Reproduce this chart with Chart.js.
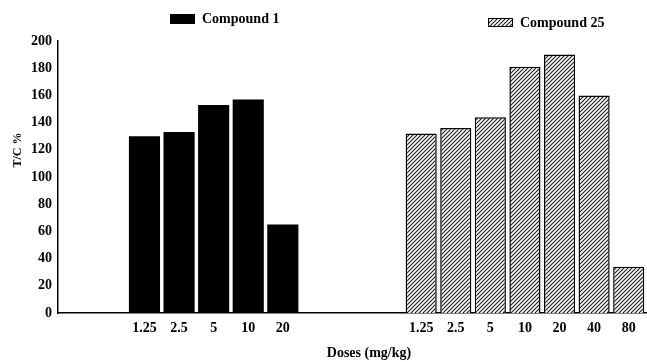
<!DOCTYPE html>
<html>
<head>
<meta charset="utf-8">
<script src="https://cdn.jsdelivr.net/npm/chart.js@4/dist/chart.umd.min.js"></script>
<style>
  html, body { margin: 0; padding: 0; background: #fff; }
  #wrap { width: 647px; height: 362px; position: relative; }
</style>
</head>
<body>
<div id="wrap"><canvas id="c" width="647" height="362"></canvas></div>
<script>
const categories = ['', '', '1.25', '2.5', '5', '10', '20', '', '', '', '1.25', '2.5', '5', '10', '20', '40', '80'];
const compound1 = [null, null, 130, 133, 153, 157, 65, null, null, null, null, null, null, null, null, null, null];
const compound25 = [null, null, null, null, null, null, null, null, null, null, 132, 136, 144, 181, 190, 160, 34];
const yTicks = [0, 20, 40, 60, 80, 100, 120, 140, 160, 180, 200];
const seriesNames = ['Compound 1', 'Compound 25'];
const xTitle = 'Doses (mg/kg)';
const yTitle = 'T/C %';

function hatch() {
  const s = 4;
  const p = document.createElement('canvas');
  p.width = s; p.height = s;
  const g = p.getContext('2d');
  g.fillStyle = '#ffffff';
  g.fillRect(0, 0, s, s);
  g.strokeStyle = '#1a1a1a';
  g.lineWidth = 1.1;
  g.beginPath();
  g.moveTo(-1, s + 1); g.lineTo(s + 1, -1);
  g.moveTo(-1, 1); g.lineTo(1, -1);
  g.moveTo(s - 1, s + 1); g.lineTo(s + 1, s - 1);
  g.stroke();
  return g.createPattern(p, 'repeat');
}
const hatchFill = hatch();

const FONT = 'Liberation Serif';

const annotationPlugin = {
  id: 'customLegendAndTitles',
  afterDraw(chart) {
    const ctx = chart.ctx;
    const ds = chart.data.datasets;
    ctx.save();
    ctx.font = 'bold 14px "' + FONT + '"';
    ctx.textBaseline = 'middle';
    // Legend: Compound 1
    ctx.fillStyle = ds[0].backgroundColor;
    ctx.fillRect(170, 14, 25, 10);
    ctx.fillStyle = '#000';
    ctx.fillText(ds[0].label, 202, 19);
    // Legend: Compound 25
    ctx.fillStyle = ds[1].backgroundColor;
    ctx.fillRect(488, 18, 24, 8);
    ctx.strokeStyle = '#000';
    ctx.lineWidth = 1;
    ctx.strokeRect(488.5, 18.5, 24, 8);
    ctx.fillStyle = '#000';
    ctx.fillText(ds[1].label, 520, 23);
    // X axis title
    ctx.textAlign = 'center';
    ctx.fillText(xTitle, 369, 353);
    // Y axis title
    ctx.font = 'bold 12px "' + FONT + '"';
    ctx.translate(18, 150);
    ctx.rotate(-Math.PI / 2);
    ctx.fillText(yTitle, 0, 0);
    ctx.restore();
  }
};

new Chart(document.getElementById('c'), {
  type: 'bar',
  data: {
    labels: categories,
    datasets: [
      { label: seriesNames[0], data: compound1, backgroundColor: '#000000', borderColor: '#000000', borderWidth: 0 },
      { label: seriesNames[1], data: compound25, backgroundColor: hatchFill, borderColor: '#000000', borderWidth: 1.5 }
    ]
  },
  options: {
    responsive: false,
    animation: false,
    devicePixelRatio: 1,
    barPercentage: 0.9,
    categoryPercentage: 1.0,
    layout: { padding: { top: 41, right: 1, left: 2, bottom: 0 } },
    plugins: {
      legend: { display: false },
      tooltip: { enabled: false }
    },
    scales: {
      x: {
        stacked: true,
        grid: { display: false, drawTicks: false },
        border: { display: true, color: '#000', width: 1.5 },
        ticks: {
          color: '#000',
          font: { family: FONT, size: 14, weight: 'bold' },
          padding: 7,
          autoSkip: false,
          maxRotation: 0
        },
        afterFit(scale) { scale.height = 49; }
      },
      y: {
        stacked: true,
        min: 0,
        max: 200,
        afterBuildTicks(scale) { scale.ticks = yTicks.map(v => ({ value: v })); },
        grid: { display: false, drawOnChartArea: false, drawTicks: true, tickLength: 4, tickColor: '#000' },
        border: { display: true, color: '#000', width: 1.5 },
        ticks: {
          color: '#000',
          font: { family: FONT, size: 14, weight: 'bold' },
          padding: 2
        },
        afterFit(scale) { scale.width = 56; }
      }
    }
  },
  plugins: [annotationPlugin]
});
</script>
</body>
</html>
